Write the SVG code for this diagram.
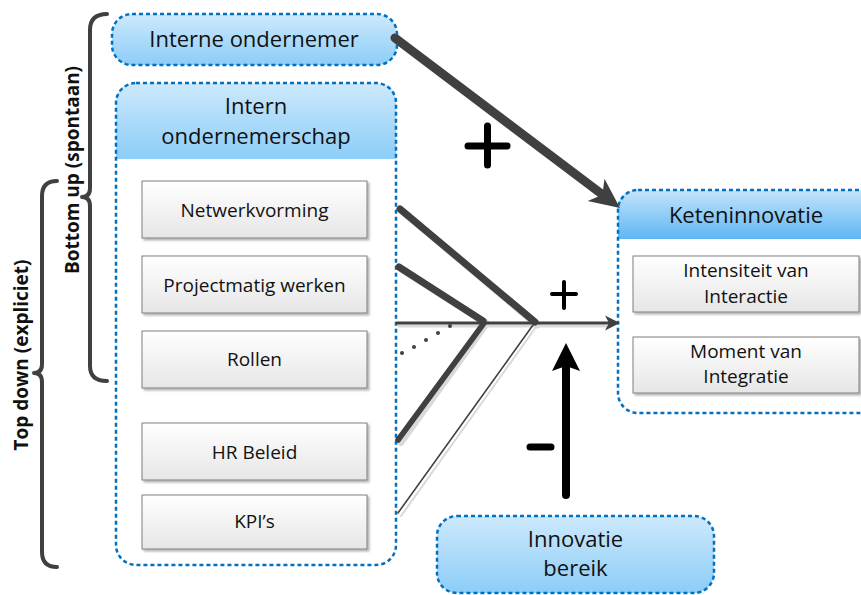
<svg xmlns="http://www.w3.org/2000/svg" width="861" height="595" viewBox="0 0 861 595">
<defs>
<linearGradient id="gBlue" x1="0" y1="0" x2="0" y2="1"><stop offset="0" stop-color="#cde9fc"/><stop offset="1" stop-color="#8ccdf8"/></linearGradient>
<linearGradient id="gBlue2" x1="0" y1="0" x2="0" y2="1"><stop offset="0" stop-color="#c4e4fb"/><stop offset="1" stop-color="#5fb6f4"/></linearGradient>
<linearGradient id="gGray" x1="0" y1="0" x2="0" y2="1"><stop offset="0" stop-color="#ffffff"/><stop offset="1" stop-color="#e6e6e6"/></linearGradient>
<filter id="sh" x="-10%" y="-10%" width="130%" height="140%"><feDropShadow dx="2" dy="2" stdDeviation="1" flood-color="#000" flood-opacity="0.3"/></filter>
</defs>
<style>
.dash{fill:none;stroke:#0070c0;stroke-width:2.5;stroke-dasharray:4 3}
.box{fill:url(#gGray);stroke:#7f7f7f;stroke-width:1;filter:url(#sh)}
.t{font-family:"Open Sans","DejaVu Sans",sans-serif;fill:#111;text-anchor:middle}
.h{font-size:22px}
.b{font-size:19px}
.side{font-family:"Open Sans","DejaVu Sans",sans-serif;font-weight:bold;font-size:19px;fill:#111;text-anchor:middle}
.brace{fill:none;stroke:#404040;stroke-width:4;stroke-linecap:round;stroke-linejoin:round}
.bone{stroke:#404040;stroke-linecap:round;fill:none}
.shd{stroke:#d9d9d9;stroke-linecap:round;fill:none}
</style>

<g id="brace-bottom-up">
<path class="brace" d="M107,14 Q90,14 90,30 L90,188 Q90,197 82,197 Q90,197 90,206 L90,366 Q90,381 107,381"/>
<text class="side" transform="translate(79,170) rotate(-90)">Bottom up (spontaan)</text>
</g>
<g id="brace-top-down">
<path class="brace" d="M57,181 Q42,181 42,196 L42,364 Q42,373 34,373 Q42,373 42,382 L42,552 Q42,567 57,567"/>
<text class="side" transform="translate(28,355) rotate(-90)">Top down (expliciet)</text>
</g>

<g id="interne-ondernemer">
<rect x="112" y="14" width="285" height="51" rx="20" fill="url(#gBlue)"/>
<rect class="dash" x="112" y="14" width="285" height="51" rx="20"/>
<text class="t h" x="254" y="47">Interne ondernemer</text>
</g>

<g id="intern-ondernemerschap">
<rect x="116" y="83" width="280" height="482" rx="20" fill="#fff"/>
<path d="M116,159 L116,103 Q116,83 136,83 L376,83 Q396,83 396,103 L396,159 Z" fill="url(#gBlue)"/>
<rect class="dash" x="116" y="83" width="280" height="482" rx="20"/>
<text class="t h" x="256" y="114">Intern</text>
<text class="t h" x="256" y="144">ondernemerschap</text>
</g>

<g id="netwerkvorming"><rect class="box" x="142" y="181" width="225" height="57"/><text class="t b" x="254.5" y="217">Netwerkvorming</text></g>
<g id="projectmatig-werken"><rect class="box" x="142" y="256" width="225" height="57"/><text class="t b" x="254.5" y="292">Projectmatig werken</text></g>
<g id="rollen"><rect class="box" x="142" y="331" width="225" height="57"/><text class="t b" x="254.5" y="366">Rollen</text></g>
<g id="hr-beleid"><rect class="box" x="142" y="423" width="225" height="57"/><text class="t b" x="254.5" y="459">HR Beleid</text></g>
<g id="kpis"><rect class="box" x="142" y="495" width="225" height="54"/><text class="t b" x="254.5" y="528">KPI’s</text></g>

<g id="keteninnovatie">
<rect x="618" y="190" width="270" height="223" rx="20" fill="#fff"/>
<path d="M618,239 L618,210 Q618,190 638,190 L888,190 L888,239 Z" fill="url(#gBlue2)"/>
<rect class="dash" x="618" y="190" width="270" height="223" rx="20"/>
<text class="t h" x="746" y="223">Keteninnovatie</text>
</g>
<g id="intensiteit"><rect class="box" x="633" y="256" width="226" height="56"/><text class="t b" x="746" y="277">Intensiteit van</text><text class="t b" x="746" y="303">Interactie</text></g>
<g id="moment"><rect class="box" x="633" y="337" width="226" height="56"/><text class="t b" x="746" y="358">Moment van</text><text class="t b" x="746" y="383">Integratie</text></g>

<g id="innovatie-bereik">
<rect x="437" y="516" width="277" height="77" rx="20" fill="url(#gBlue)"/>
<rect class="dash" x="437" y="516" width="277" height="77" rx="20"/>
<text class="t h" x="575.5" y="547">Innovatie</text>
<text class="t h" x="575.5" y="576">bereik</text>
</g>

<g id="connectors">
<!-- shadows -->
<line class="shd" x1="402" y1="211" x2="537" y2="325" stroke-width="7"/>
<line class="shd" x1="401" y1="269" x2="486" y2="323" stroke-width="7"/>
<line class="shd" x1="486" y1="325" x2="401" y2="443" stroke-width="6"/>
<line class="shd" x1="536" y1="327" x2="401" y2="516" stroke-width="2"/>
<line class="shd" x1="399" y1="326" x2="606" y2="326" stroke-width="3"/>
<!-- fishbone -->
<line class="bone" x1="397" y1="323" x2="609" y2="323" stroke-width="3"/>
<polygon points="620,323 605,315.5 609,323 605,330.5" fill="#404040"/>
<line class="bone" x1="400" y1="209" x2="535" y2="322" stroke-width="7"/>
<line class="bone" x1="399" y1="267" x2="483" y2="321" stroke-width="7"/>
<line class="bone" x1="484" y1="323" x2="398" y2="440" stroke-width="5.5"/>
<line class="bone" x1="533" y1="325" x2="398" y2="513" stroke-width="1.6"/>
<g fill="#404040">
<circle cx="450" cy="326" r="2"/><circle cx="438" cy="333" r="2"/><circle cx="426" cy="340" r="2"/><circle cx="414" cy="347" r="2"/><circle cx="402" cy="353" r="2"/>
</g>
<!-- big arrow -->
<line class="bone" x1="395" y1="38" x2="603" y2="195" stroke-width="9"/>
<polygon points="620,208 587.7,201.1 602.4,194.7 604.5,178.7" fill="#404040"/>
<!-- up arrow -->
<line x1="566" y1="495" x2="566" y2="364" stroke="#000" stroke-width="8" stroke-linecap="round"/>
<polygon points="566,343 580,371 566,366 552,371" fill="#000"/>
</g>

<g id="signs" stroke="#000" stroke-linecap="round" fill="none">
<path d="M468,146 H507 M487.5,126 V165" stroke-width="7"/>
<path d="M552,294 H576 M564,282 V308" stroke-width="4"/>
<path d="M530,447 H551" stroke-width="7"/>
</g>
</svg>
